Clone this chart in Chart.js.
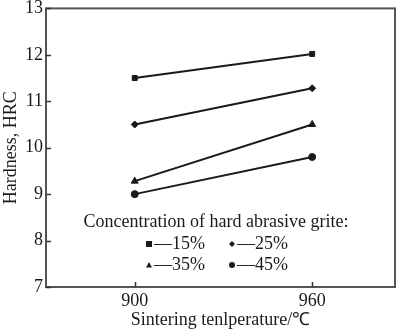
<!DOCTYPE html>
<html>
<head>
<meta charset="utf-8">
<script src="https://cdn.jsdelivr.net/npm/chart.js@4/dist/chart.umd.min.js"></script>
<style>
  html, body { margin: 0; padding: 0; background: #fff; }
  #wrap { width: 400px; height: 331px; }
</style>
</head>
<body>
<div id="wrap"><canvas id="hardness"></canvas></div>
<script>
// sintering temperature (x) and hardness per grit concentration
const temps = [900, 960]
const h15 = [11.5, 12.02]
const h25 = [10.5, 11.28]
const h35 = [9.28, 10.5]
const h45 = [9.0, 9.8]
const xTicks = [900, 960]
const yTicks = [7, 8, 9, 10, 11, 12, 13]

const legendTitle = 'Concentration of hard abrasive grite:'
const legendItems = [
  { text: '\u201415%', style: 'rect' },
  { text: '\u201425%', style: 'rectRot' },
  { text: '\u201435%', style: 'triangle' },
  { text: '\u201445%', style: 'circle' }
]

const serif = '"Liberation Serif", "Times New Roman", serif'
const ink = '#1a1a1a'

function pts(ys) {
  return temps.map((t, i) => ({ x: t, y: ys[i] }))
}

function series(ys, style, r) {
  return {
    data: pts(ys),
    borderColor: ink,
    backgroundColor: ink,
    borderWidth: 2,
    pointStyle: style,
    pointRadius: r,
    pointBorderWidth: 1
  }
}

function marker(ctx, style, x, y, r) {
  ctx.beginPath()
  if (style === 'rect') {
    ctx.rect(x - r, y - r, 2 * r, 2 * r)
  } else if (style === 'rectRot') {
    ctx.moveTo(x, y - r); ctx.lineTo(x + r, y); ctx.lineTo(x, y + r); ctx.lineTo(x - r, y)
    ctx.closePath()
  } else if (style === 'triangle') {
    ctx.moveTo(x, y - r); ctx.lineTo(x + r, y + r * 0.8); ctx.lineTo(x - r, y + r * 0.8)
    ctx.closePath()
  } else {
    ctx.arc(x, y, r, 0, Math.PI * 2)
  }
  ctx.fill()
}

// frame, inward ticks and the in-plot legend
const frame = {
  id: 'frame',
  afterDatasetsDraw(chart) {
    const ctx = chart.ctx
    const a = chart.chartArea
    const xs = chart.scales.x
    const ys = chart.scales.y
    ctx.save()
    ctx.strokeStyle = '#555'
    ctx.lineWidth = 2
    ctx.strokeRect(a.left, a.top, a.right - a.left, a.bottom - a.top)

    ctx.lineWidth = 1.5
    ctx.strokeStyle = '#333'
    ctx.beginPath()
    xTicks.forEach(v => {
      const px = Math.round(xs.getPixelForValue(v)) + 0.5
      ctx.moveTo(px, a.bottom); ctx.lineTo(px, a.bottom - 5)
    })
    yTicks.forEach(v => {
      const py = Math.round(ys.getPixelForValue(v)) + 0.5
      ctx.moveTo(a.left, py); ctx.lineTo(a.left + 5, py)
    })
    ctx.stroke()

    ctx.fillStyle = ink
    ctx.font = '18px ' + serif
    ctx.textBaseline = 'middle'
    ctx.textAlign = 'center'
    ctx.fillText(legendTitle, 216, 222)
    ctx.textAlign = 'left'
    const cols = [149, 232]
    const rows = [244, 265]
    legendItems.forEach((it, i) => {
      const x = cols[i % 2]
      const y = rows[Math.floor(i / 2)]
      marker(ctx, it.style, x, y, 3)
      ctx.fillText(it.text, x + 5, y)
    })
    ctx.restore()
  }
}

const tickFont = { family: serif, size: 18, lineHeight: 0.6 }

new Chart(document.getElementById('hardness'), {
  type: 'line',
  data: {
    datasets: [
      series(h15, 'rect', 3.5),
      series(h25, 'rectRot', 3.5),
      series(h35, 'triangle', 4),
      series(h45, 'circle', 3.5)
    ]
  },
  options: {
    responsive: true,
    maintainAspectRatio: false,
    animation: false,
    layout: { padding: { top: 0, right: 5, left: 0, bottom: 0 } },
    plugins: {
      legend: { display: false },
      tooltip: { enabled: false }
    },
    scales: {
      x: {
        type: 'linear',
        min: 870,
        max: 988,
        afterBuildTicks: s => { s.ticks = xTicks.map(v => ({ value: v })) },
        afterFit: s => { s.height = 44 },
        grid: { display: false, drawTicks: false },
        border: { display: false },
        ticks: { color: ink, font: { family: serif, size: 18 }, padding: 3 },
        title: {
          display: true,
          text: 'Sintering tenlperature/\u2103',
          color: ink,
          font: { family: serif, size: 18 },
          padding: { top: 0, bottom: 0 }
        }
      },
      y: {
        min: 7,
        max: 13,
        afterBuildTicks: s => { s.ticks = yTicks.map(v => ({ value: v })) },
        afterFit: s => { s.width = 46 },
        grid: { display: false, drawTicks: false },
        border: { display: false },
        ticks: { color: ink, font: tickFont, padding: 3 },
        title: {
          display: true,
          text: 'Hardness, HRC',
          color: ink,
          font: { family: serif, size: 18 },
          padding: { top: 0, bottom: 0 }
        }
      }
    }
  },
  plugins: [frame]
})
</script>
</body>
</html>
